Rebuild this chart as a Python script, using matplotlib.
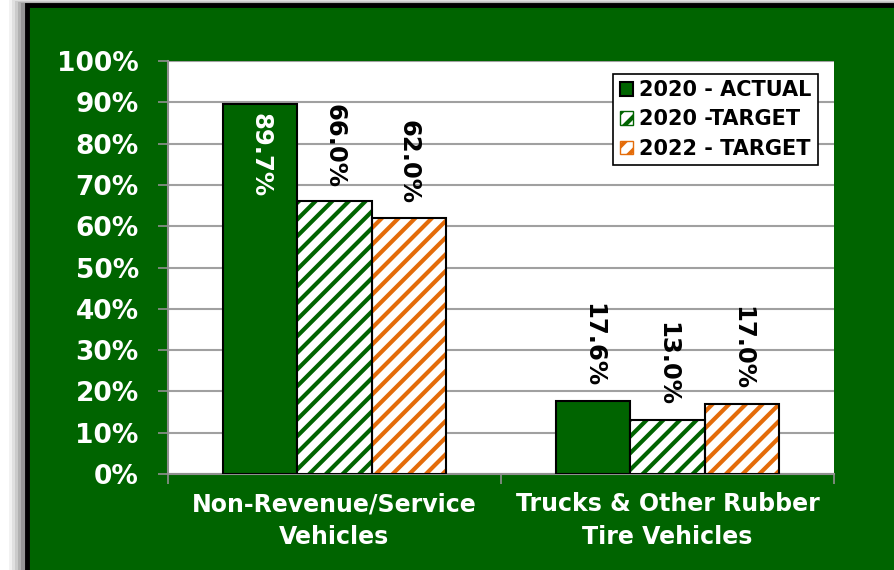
import matplotlib.pyplot as plt
from matplotlib.patches import Rectangle

categories = ['Non-Revenue/Service\nVehicles', 'Trucks & Other Rubber\nTire Vehicles']
series_names = ['2020 - ACTUAL', '2020 -TARGET', '2022 - TARGET']
actual_2020 = [89.7, 17.6]
target_2020 = [66.0, 13.0]
target_2022 = [62.0, 17.0]
y_ticks = [0, 10, 20, 30, 40, 50, 60, 70, 80, 90, 100]

GREEN = '#006400'
ORANGE = '#e46c0a'
plt.rcParams['hatch.linewidth'] = 3.0
plt.rcParams['font.family'] = ['DejaVu Sans']

fig = plt.figure(figsize=(8.94, 5.70), dpi=100)
fig.patch.set_facecolor('white')

# drop shadow + green panel with black border
for i, a in enumerate([0.05, 0.07, 0.09, 0.12, 0.16]):
    off = (5 - i) * 3
    fig.patches.append(Rectangle(((24 - off) / 894, 0), 1.0, (566 + off / 3) / 570,
                                 transform=fig.transFigure, facecolor='black',
                                 edgecolor='none', alpha=a, zorder=0))
fig.patches.append(Rectangle((26.5 / 894, -0.01), 1.0, (567 - 2) / 570 + 0.01,
                             transform=fig.transFigure, facecolor=GREEN,
                             edgecolor='black', linewidth=3.5, zorder=1))

ax = fig.add_axes([168 / 894, 96 / 570, 666 / 894, 413 / 570])
ax.set_facecolor('white')
ax.set_zorder(2)

x = range(len(categories))
w = 0.223
series = [actual_2020, target_2020, target_2022]
for k, vals in enumerate(series):
    xs = [i + (k - 1) * w for i in x]
    if k == 0:
        ax.bar(xs, vals, w, color=GREEN, edgecolor='black', linewidth=1.5,
               zorder=3, label=series_names[k])
    else:
        col = GREEN if k == 1 else ORANGE
        ax.bar(xs, vals, w, color='white', edgecolor=col, hatch='//',
               linewidth=0, zorder=3)
        ax.bar(xs, vals, w, fill=False, edgecolor='black', linewidth=1.5, zorder=4)
        # proxy for legend
        ax.bar([0], [0], 0, color='white', edgecolor=col, hatch='//',
               label=series_names[k])
    for xi, v in zip(xs, vals):
        if v > 80:
            ax.annotate(f'{v:.1f}%', (xi, v), xytext=(0, -7), textcoords='offset points',
                        rotation=-90, ha='center', va='top', color='white',
                        fontsize=17.5, fontweight='bold', zorder=5)
        else:
            ax.annotate(f'{v:.1f}%', (xi, v), xytext=(0, 10), textcoords='offset points',
                        rotation=-90, ha='center', va='bottom', color='black',
                        fontsize=17.5, fontweight='bold', zorder=5)

ax.set_xlim(-0.5, 1.5)
ax.set_ylim(0, 100)
ax.set_yticks(y_ticks)
ax.set_yticklabels([f'{t}%' for t in y_ticks], color='white', fontsize=19, fontweight='bold')
ax.yaxis.grid(True, color='#a0a0a0', linewidth=1.5, zorder=0)
ax.set_axisbelow(True)
ax.tick_params(axis='y', length=7, width=1.2, color='#909090', pad=14)

ax.set_xticks([-0.5, 0.5, 1.5], minor=False)
ax.set_xticklabels([])
ax.set_xticks([0, 1], minor=True)
ax.set_xticklabels(categories, minor=True, color='white', fontsize=17, fontweight='bold',
                   linespacing=1.45)
ax.tick_params(axis='x', which='major', length=7, width=1.2, color='#909090')
ax.tick_params(axis='x', which='minor', length=0, pad=13)

for s in ['top', 'right']:
    ax.spines[s].set_visible(False)
for s in ['left', 'bottom']:
    ax.spines[s].set_color('#909090')
    ax.spines[s].set_linewidth(1.5)

leg = ax.legend(loc='upper right', bbox_to_anchor=(0.976, 0.969), borderaxespad=0,
                fancybox=False, edgecolor='black', framealpha=1,
                prop={'weight': 'bold', 'size': 15}, handlelength=0.65,
                handleheight=0.65, handletextpad=0.3, labelspacing=0.45,
                borderpad=0.3)
leg.get_frame().set_linewidth(1.2)
leg.set_zorder(10)

fig.savefig('out.png', dpi=100)
